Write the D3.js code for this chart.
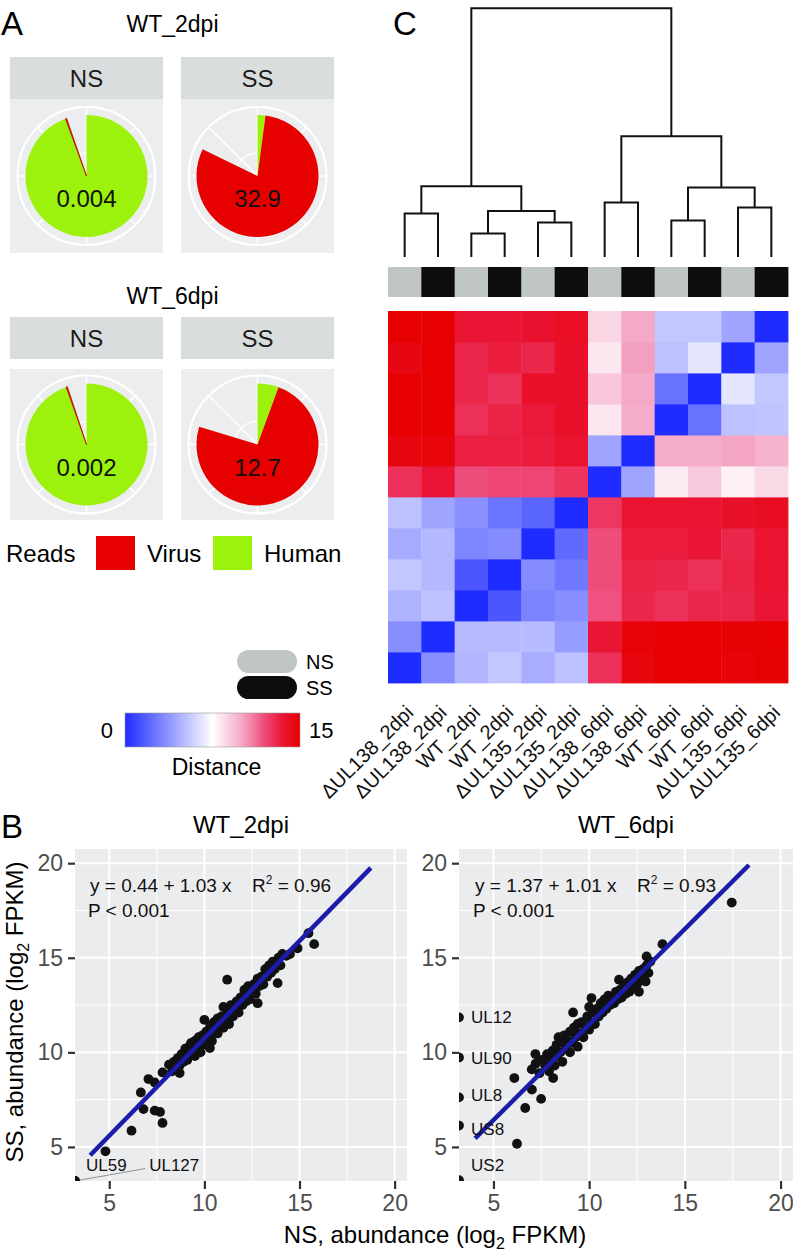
<!DOCTYPE html>
<html><head><meta charset="utf-8">
<script src="https://cdn.jsdelivr.net/npm/d3@7"></script>
<style>
body{margin:0;background:#fff}
svg{display:block}
text{font-family:"Liberation Sans",Arial,Helvetica,sans-serif}
</style>
</head><body>
<svg id="chart" width="793" height="1251"></svg>
<script>
// ---------------- DATA ----------------
// Panel A: read composition pies (share of polar axis, axis max = 100)
const pieGroups = ["WT_2dpi", "WT_6dpi"];
const pieFacets = ["NS", "SS"];
const humanShare = [[94.4, 2.1], [94.6, 5.6]];
const virusShare = [[0.3, 80.1], [0.3, 74.1]];
const virusPctLabels = [["0.004", "32.9"], ["0.002", "12.7"]];
const readsLegend = ["Virus", "Human"];

// Panel C: samples (columns, left to right) and condition
const sampleLabels = ["ΔUL138_2dpi","ΔUL138_2dpi","WT_2dpi","WT_2dpi","ΔUL135_2dpi","ΔUL135_2dpi",
                      "ΔUL138_6dpi","ΔUL138_6dpi","WT_6dpi","WT_6dpi","ΔUL135_6dpi","ΔUL135_6dpi"];
const sampleCondition = ["NS","SS","NS","SS","NS","SS","NS","SS","NS","SS","NS","SS"];
// distance matrix, rows/cols in sample order
const distances = [
  [0, 3.5, 4.9, 5.5, 4.6, 5.3, 12.7, 14.6, 15, 15, 14.8, 14.9],
  [3.5, 0, 5.1, 5.1, 5.1, 4.0, 13.5, 14.8, 15, 15, 14.9, 15],
  [4.8, 5.3, 0, 1.5, 3.1, 3.5, 11.8, 13.0, 12.7, 13.0, 13.0, 13.5],
  [5.5, 5.0, 1.5, 0, 3.4, 2.7, 11.9, 13.1, 13.0, 12.7, 13.1, 13.6],
  [4.5, 5.0, 3.2, 3.4, 0, 2.2, 11.9, 13.3, 13.3, 13.5, 13.0, 13.6],
  [5.3, 4.3, 3.6, 2.6, 2.0, 0, 12.5, 13.6, 13.6, 13.6, 13.8, 14.1],
  [12.7, 13.5, 11.9, 12.1, 12.1, 12.6, 0, 4.3, 8.1, 9.1, 7.9, 8.6],
  [14.6, 14.7, 13.2, 13.2, 13.3, 13.6, 4.3, 0, 9.9, 9.9, 10.1, 9.7],
  [15, 15, 12.7, 13.1, 13.4, 13.8, 8.2, 9.9, 0, 2.5, 5.3, 5.4],
  [15, 15, 13.0, 12.7, 13.8, 13.8, 9.2, 10.0, 2.5, 0, 6.6, 5.5],
  [14.5, 15, 13.0, 13.3, 13.0, 13.8, 8.2, 10.2, 5.3, 6.6, 0, 4.3],
  [15, 15, 13.5, 13.5, 13.7, 14.0, 8.7, 10.0, 5.5, 5.5, 4.3, 0]
];
// hclust-style merges (negative = leaf index, 1-based; positive = earlier merge)
const mergeLeft   = [-3, -5, -9, -1, 1, -11, -7, 3, 4, 7, 9];
const mergeRight  = [-4, -6, -10, -2, 2, -12, -8, 6, 5, 8, 10];
const mergeHeight = [3.77, 5.54, 5.86, 6.99, 7.41, 7.95, 8.76, 11.18, 11.38, 19.44, 40];
const distanceTicks = [0, 15];

// Panel B: log2 FPKM, NS (x) vs SS (y)
const wt2dpiPoints = [
  [3.2,3.2],[3.2,3.2],[4.8,4.77],[6.17,5.86],[7.8,6.27],[6.8,7.0],[7.39,6.92],[7.67,6.85],[6.66,7.88],
  [7.06,8.59],[7.39,8.41],[7.8,8.94],[8.14,9.35],[8.7,8.91],[11.2,13.84],[13.85,13.66],[15.77,15.72],
  [15.47,16.3],[10.29,10.23],[10.0,11.72],[12.8,12.6],[14.5,15.2],[14.9,15.5],[14.1,15.2],
  [8.3,9.0],[8.4,9.5],[8.5,9.2],[8.6,9.7],[8.7,9.3],[8.8,9.9],[8.9,9.5],[9.0,9.8],[9.0,10.2],[9.1,9.6],
  [9.2,10.3],[9.3,9.9],[9.3,10.5],[9.4,10.1],[9.5,10.6],[9.5,9.8],[9.6,10.3],[9.7,10.8],[9.8,10.4],
  [9.8,10.0],[9.9,10.9],[10.0,10.6],[10.1,11.1],[10.1,10.4],[10.2,10.9],[10.3,11.4],[10.4,11.0],
  [10.4,10.6],[10.5,11.6],[10.6,11.2],[10.7,11.8],[10.7,11.0],[10.8,11.5],[10.9,11.9],[11.0,11.3],
  [11.0,12.4],[11.1,11.7],[11.2,12.1],[11.3,11.5],[11.4,12.5],[11.5,11.9],[11.6,12.3],[11.7,12.7],
  [11.8,12.1],[11.9,12.9],[12.0,12.5],[12.1,13.3],[12.2,12.7],[12.3,13.5],[12.4,12.8],[12.5,13.2],
  [12.6,13.6],[12.7,13.1],[12.8,13.9],[12.9,13.5],[13.0,14.0],[13.1,13.6],[13.2,14.4],[13.3,14.0],
  [13.4,14.6],[13.5,14.2],[13.6,14.8],[13.7,14.4],[13.9,15.0],[14.0,14.6],[14.3,15.1]
];
const wt6dpiPoints = [
  [3.2,11.85],[3.2,9.73],[3.2,7.62],[3.2,6.13],[3.2,3.24],
  [17.45,17.92],[13.83,15.72],[13.0,15.07],[11.56,13.84],[10.12,12.87],[9.16,12.11],[7.19,9.91],
  [6.09,8.64],[7.01,8.03],[7.49,7.54],[6.66,7.06],[6.23,5.17],[8.12,8.64],[12.95,13.75],
  [7.0,9.1],[7.2,9.4],[7.4,8.9],[7.5,9.6],[7.7,9.3],[7.8,9.9],[7.9,9.0],[8.0,9.6],[8.1,10.1],[8.2,9.3],
  [8.3,10.4],[8.3,9.8],[8.4,10.8],[8.5,10.0],[8.6,9.5],[8.6,10.5],[8.7,10.9],[8.8,10.2],[8.9,10.6],
  [9.0,11.1],[9.0,10.0],[9.1,10.5],[9.2,11.3],[9.3,10.8],[9.4,10.3],[9.4,11.5],[9.5,11.0],[9.6,11.6],
  [9.7,10.8],[9.8,11.3],[9.9,11.9],[10.0,11.2],[10.0,12.4],[10.1,11.6],[10.2,12.1],[10.3,11.5],
  [10.4,12.3],[10.5,11.9],[10.6,12.6],[10.7,12.1],[10.8,12.8],[10.9,12.3],[11.0,13.0],[11.1,12.5],
  [11.2,12.9],[11.3,12.6],[11.4,13.2],[11.5,12.8],[11.6,13.3],[11.7,12.9],[11.8,13.5],[11.9,13.1],
  [12.0,13.7],[12.1,13.2],[12.2,13.9],[12.3,13.5],[12.4,14.1],[12.5,13.6],[12.6,14.3],[12.7,13.8],
  [12.8,14.4],[12.9,14.1],[13.0,14.6],[13.1,14.2],[13.2,14.8],[12.6,13.2]
];
const fitIntercept = [0.44, 1.37];
const fitSlope = [1.03, 1.01];
const fitXRange = [[4.0, 18.75], [4.04, 18.35]];
const fitR2 = ["0.96", "0.93"];
const fitP = ["P < 0.001", "P < 0.001"];
// labelled genes: [name, pointX, pointY, labelX, labelY]
const wt2dpiGenes = [["UL59", 3.2, 3.2, 3.78, 4.07], ["UL127", 3.2, 3.2, 7.1, 4.07]];
const wt6dpiGenes = [["UL12", 3.2, 11.85, 3.83, 11.85], ["UL90", 3.2, 9.73, 3.83, 9.73],
                     ["UL8", 3.2, 7.62, 3.83, 7.76], ["US8", 3.2, 6.13, 3.83, 5.96], ["US2", 3.2, 3.24, 3.83, 4.06]];
const axisTicks = [5, 10, 15, 20];
const minorTicks = [7.5, 12.5, 17.5];

// ---------------- DRAW ----------------
const svg = d3.select("#chart");
svg.append("rect").attr("width", 793).attr("height", 1251).attr("fill", "#fff");

const RED = "#e60000", GREEN = "#9cf20c";

function panelLetter(t, x, y) {
  svg.append("text").attr("x", x).attr("y", y).attr("font-size", 33).text(t);
}
panelLetter("A", 1, 35);
panelLetter("B", 1, 838);
panelLetter("C", 393, 35);

// ---- Panel A ----
const pieLayout = [
  {titleY: 32, stripY: 57, panelY: 99, panelH: 154},
  {titleY: 304, stripY: 317, panelY: 369, panelH: 151}
];
const facetX = [10, 181], facetW = 153, stripH = 42;
const theta = d3.scaleLinear().domain([0, 100]).range([0, 2 * Math.PI]);
const pieR = 61, outerR = 69, innerGridR = 23;
const arc = d3.arc().innerRadius(0).outerRadius(pieR);

pieGroups.forEach((grp, gi) => {
  const L = pieLayout[gi];
  svg.append("text").attr("x", 172.5).attr("y", L.titleY).attr("text-anchor", "middle")
    .attr("font-size", 23).text(grp);
  pieFacets.forEach((fac, fi) => {
    const x0 = facetX[fi];
    svg.append("rect").attr("x", x0).attr("y", L.stripY).attr("width", facetW).attr("height", stripH).attr("fill", "#dadddd");
    svg.append("text").attr("x", x0 + facetW / 2).attr("y", L.stripY + stripH / 2 + 8.5)
      .attr("text-anchor", "middle").attr("font-size", 24).attr("fill", "#1a1a1a").text(fac);
    svg.append("rect").attr("x", x0).attr("y", L.panelY).attr("width", facetW).attr("height", L.panelH).attr("fill", "#ebedee");
    const cx = x0 + facetW / 2, cy = L.panelY + L.panelH / 2;
    const g = svg.append("g").attr("transform", `translate(${cx},${cy})`);
    d3.range(0, 360, 45).forEach(a => {
      const r = a * Math.PI / 180;
      g.append("line").attr("x1", 0).attr("y1", 0)
        .attr("x2", outerR * Math.sin(r)).attr("y2", -outerR * Math.cos(r))
        .attr("stroke", "#fff").attr("stroke-width", 1.6);
    });
    g.append("circle").attr("r", outerR).attr("fill", "none").attr("stroke", "#fff").attr("stroke-width", 2.2);
    g.append("circle").attr("r", innerGridR).attr("fill", "none").attr("stroke", "#fff").attr("stroke-width", 1.6);
    const h = humanShare[gi][fi], v = virusShare[gi][fi];
    g.append("path").attr("d", arc({startAngle: theta(0), endAngle: theta(h)})).attr("fill", GREEN);
    g.append("path").attr("d", arc({startAngle: theta(h), endAngle: theta(h + v)})).attr("fill", RED)
      .attr("stroke", v < 1 ? "#b81000" : "none").attr("stroke-width", v < 1 ? 0.8 : 0);
    g.append("text").attr("x", 0).attr("y", 31).attr("text-anchor", "middle").attr("font-size", 24)
      .attr("fill", "#111").text(virusPctLabels[gi][fi]);
  });
});
// reads legend
svg.append("text").attr("x", 6).attr("y", 562).attr("font-size", 24).text("Reads");
const legX = [96, 213], legColors = [RED, GREEN];
readsLegend.forEach((lab, i) => {
  svg.append("rect").attr("x", legX[i]).attr("y", 536).attr("width", 39).attr("height", 34).attr("fill", legColors[i]);
  svg.append("text").attr("x", legX[i] + 51).attr("y", 562).attr("font-size", 24).text(lab);
});

// ---- Panel C ----
const n = sampleLabels.length;
const colX = d3.scaleBand().domain(d3.range(n)).range([388, 788]);
const rowY = d3.scaleBand().domain(d3.range(n).reverse()).range([311, 683]);
const heatColor = d3.scaleLinear()
  .domain([0, 7.5, 10, 12, 13.5, 15])
  .range(["#1e2cff", "#ffffff", "#f4a9c8", "#ee4878", "#ea1535", "#e60000"])
  .clamp(true);

const cells = [];
distances.forEach((row, i) => row.forEach((v, j) => cells.push({i, j, v})));
svg.append("g").selectAll("rect").data(cells).join("rect")
  .attr("x", d => colX(d.j)).attr("y", d => rowY(d.i))
  .attr("width", colX.bandwidth() + 0.4).attr("height", rowY.bandwidth() + 0.4)
  .attr("fill", d => heatColor(d.v));

const condColor = {NS: "#c0c6c6", SS: "#0d0d0d"};
svg.append("g").selectAll("rect").data(sampleCondition).join("rect")
  .attr("x", (d, j) => colX(j)).attr("y", 267).attr("width", colX.bandwidth() + 0.4).attr("height", 30)
  .attr("fill", d => condColor[d]);

svg.append("g").selectAll("text").data(sampleLabels).join("text")
  .attr("transform", (d, j) => `translate(${colX(j) + colX.bandwidth() / 2 + 5},709) rotate(-45)`)
  .attr("text-anchor", "end").attr("dy", "0.35em").attr("font-size", 20).attr("fill", "#111").text(d => d);

// dendrogram
const leafY = 257;
const hY = d3.scaleLinear().domain([0, d3.max(mergeHeight)]).range([leafY, 8.3]);
const mergePos = [];
function nodePos(k) {
  if (k < 0) return {x: colX(-k - 1) + colX.bandwidth() / 2, y: leafY};
  return mergePos[k - 1];
}
const dendroG = svg.append("g").attr("fill", "none").attr("stroke", "#111").attr("stroke-width", 2);
mergeHeight.forEach((h, k) => {
  const a = nodePos(mergeLeft[k]), b = nodePos(mergeRight[k]);
  const y = hY(h);
  mergePos.push({x: (a.x + b.x) / 2, y});
  dendroG.append("path").attr("d", `M${a.x},${a.y}V${y}H${b.x}V${b.y}`);
});

// condition legend
[["NS", 650], ["SS", 676]].forEach(([lab, y]) => {
  svg.append("rect").attr("x", 237).attr("y", y).attr("width", 60).attr("height", 23).attr("rx", 11.5)
    .attr("fill", condColor[lab]);
  svg.append("text").attr("x", 306).attr("y", y + 19).attr("font-size", 20).text(lab);
});
// distance colourbar
const defs = svg.append("defs");
const grad = defs.append("linearGradient").attr("id", "distGrad");
d3.range(0, 15.01, 0.5).forEach(v => {
  grad.append("stop").attr("offset", (v / 15 * 100) + "%").attr("stop-color", heatColor(v));
});
const cbScale = d3.scaleLinear().domain(distanceTicks).range([125, 300]);
svg.append("rect").attr("x", 125).attr("y", 713).attr("width", 175).attr("height", 34)
  .attr("fill", "url(#distGrad)").attr("stroke", "#999").attr("stroke-width", 0.6);
svg.append("text").attr("x", cbScale(distanceTicks[0]) - 12).attr("y", 738).attr("text-anchor", "end")
  .attr("font-size", 22).text(distanceTicks[0]);
svg.append("text").attr("x", cbScale(distanceTicks[1]) + 9).attr("y", 738)
  .attr("font-size", 22).text(distanceTicks[1]);
svg.append("text").attr("x", 216.5).attr("y", 775).attr("text-anchor", "middle").attr("font-size", 23).text("Distance");

// ---- Panel B ----
const panelTop = 849, panelBottom = 1181;
const yS = d3.scaleLinear().domain([3.2, 20.75]).range([panelBottom, panelTop]);
const scatterDefs = [
  {title: "WT_2dpi", x0: 75, x1: 407, pts: wt2dpiPoints, genes: wt2dpiGenes},
  {title: "WT_6dpi", x0: 459, x1: 793, pts: wt6dpiPoints, genes: wt6dpiGenes}
];
scatterDefs.forEach((P, pi) => {
  const xS = d3.scaleLinear().domain([3.2, 20.65]).range([P.x0, P.x1]);
  const w = P.x1 - P.x0, hgt = panelBottom - panelTop;
  svg.append("text").attr("x", (P.x0 + P.x1) / 2).attr("y", 833).attr("text-anchor", "middle")
    .attr("font-size", 24).text(P.title);
  svg.append("rect").attr("x", P.x0).attr("y", panelTop).attr("width", w).attr("height", hgt).attr("fill", "#ebecee");
  const clipId = "clip" + pi;
  defs.append("clipPath").attr("id", clipId).append("rect")
    .attr("x", P.x0).attr("y", panelTop).attr("width", w).attr("height", hgt);
  const grid = svg.append("g").attr("stroke", "#fff");
  minorTicks.forEach(t => {
    grid.append("line").attr("x1", xS(t)).attr("x2", xS(t)).attr("y1", panelTop).attr("y2", panelBottom).attr("stroke-width", 1);
    grid.append("line").attr("y1", yS(t)).attr("y2", yS(t)).attr("x1", P.x0).attr("x2", P.x1).attr("stroke-width", 1);
  });
  axisTicks.forEach(t => {
    grid.append("line").attr("x1", xS(t)).attr("x2", xS(t)).attr("y1", panelTop).attr("y2", panelBottom).attr("stroke-width", 2);
    grid.append("line").attr("y1", yS(t)).attr("y2", yS(t)).attr("x1", P.x0).attr("x2", P.x1).attr("stroke-width", 2);
  });
  const plot = svg.append("g").attr("clip-path", `url(#${clipId})`);
  // repel segment for labels placed far from their point
  P.genes.forEach(([name, px, py, lx, ly]) => {
    if (lx - px > 2) {
      plot.append("line").attr("x1", xS(px)).attr("y1", yS(py)).attr("x2", xS(lx) - 4).attr("y2", yS(ly) + 4)
        .attr("stroke", "#777").attr("stroke-width", 0.8);
    }
  });
  plot.selectAll("circle.pt").data(P.pts).join("circle").attr("class", "pt")
    .attr("cx", d => xS(d[0])).attr("cy", d => yS(d[1])).attr("r", 4.9).attr("fill", "#111");
  const xr = fitXRange[pi];
  plot.append("line")
    .attr("x1", xS(xr[0])).attr("y1", yS(fitIntercept[pi] + fitSlope[pi] * xr[0]))
    .attr("x2", xS(xr[1])).attr("y2", yS(fitIntercept[pi] + fitSlope[pi] * xr[1]))
    .attr("stroke", "#1c1caa").attr("stroke-width", 4.5);
  P.genes.forEach(([name, px, py, lx, ly]) => {
    plot.append("text").attr("x", xS(lx)).attr("y", yS(ly)).attr("dy", "0.36em")
      .attr("font-size", 17).attr("fill", "#111").text(name);
  });
  // equation annotation
  const eqX = P.x0 + (pi === 0 ? 15 : 16);
  svg.append("text").attr("x", eqX).attr("y", 892).attr("font-size", 19).attr("fill", "#111")
    .text(`y = ${fitIntercept[pi].toFixed(2)} + ${fitSlope[pi].toFixed(2)} x`);
  const r2 = svg.append("text").attr("x", eqX + 162).attr("y", 892).attr("font-size", 19).attr("fill", "#111");
  r2.append("tspan").text("R");
  r2.append("tspan").attr("dy", -8).attr("font-size", 12).text("2");
  r2.append("tspan").attr("dy", 8).text(" = " + fitR2[pi]);
  svg.append("text").attr("x", eqX - 2).attr("y", 917).attr("font-size", 19).attr("fill", "#111").text(fitP[pi]);

  // axes
  const ax = svg.append("g").attr("transform", `translate(0,${panelBottom})`)
    .call(d3.axisBottom(xS).tickValues(axisTicks).tickSize(8).tickPadding(6));
  const ay = svg.append("g").attr("transform", `translate(${P.x0},0)`)
    .call(d3.axisLeft(yS).tickValues(axisTicks).tickSize(7).tickPadding(5));
  [ax, ay].forEach(a => {
    a.select(".domain").remove();
    a.selectAll(".tick line").attr("stroke", "#333").attr("stroke-width", 2.2);
    a.selectAll(".tick text").attr("font-size", 23).attr("fill", "#4d4d4d")
      .attr("font-family", '"Liberation Sans",Arial,Helvetica,sans-serif');
  });
});
// axis titles
const xt = svg.append("text").attr("x", 435).attr("y", 1243).attr("text-anchor", "middle").attr("font-size", 24);
xt.append("tspan").text("NS, abundance (log");
xt.append("tspan").attr("dy", 6).attr("font-size", 16).text("2");
xt.append("tspan").attr("dy", -6).text(" FPKM)");
const yt = svg.append("text").attr("transform", "translate(23,1012) rotate(-90)").attr("text-anchor", "middle").attr("font-size", 24);
yt.append("tspan").text("SS, abundance (log");
yt.append("tspan").attr("dy", 6).attr("font-size", 16).text("2");
yt.append("tspan").attr("dy", -6).text(" FPKM)");
</script>
</body></html>
